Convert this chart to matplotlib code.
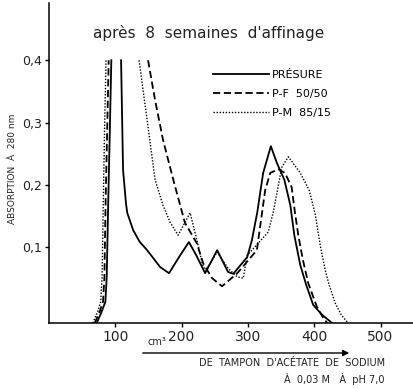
import matplotlib
matplotlib.use("Agg")
import matplotlib.pyplot as plt

# rising edge (all three curves go off scale at 0.4)
rise_y = [-0.022, -0.005, 0.012, 0.05, 0.18, 0.30, 0.40]
presure_rise_x = [72, 79, 85, 87, 89.5, 92, 94]
pf_rise_x = [69, 76, 81.5, 83.5, 85.5, 88, 90]
pm_rise_x = [66, 73, 78, 80, 82, 84, 86]

# PRESURE (solid)
presure_x = [108.7, 111.7, 116, 118, 127, 137, 148, 167.5, 181, 198, 211, 222, 235.5,
             253.6, 270, 278, 299, 306, 314, 323, 334.6, 343.7, 355, 364, 370, 379,
             388, 398.5, 412, 427]
presure_y = [0.40, 0.224, 0.171, 0.155, 0.127, 0.108, 0.095, 0.068, 0.058, 0.087, 0.108,
             0.087, 0.058, 0.095, 0.060, 0.057, 0.084, 0.111, 0.155, 0.219, 0.262, 0.235,
             0.208, 0.167, 0.119, 0.071, 0.039, 0.007, -0.009, -0.022]

# P-F 50/50 (dashed)
pf_x = [149.4, 160, 172, 188.7, 205, 223, 232.5, 246, 261, 284, 313.5, 326, 333.6,
        345.8, 356, 366, 371, 376, 383, 391, 404, 412, 419.6]
pf_y = [0.40, 0.336, 0.272, 0.203, 0.139, 0.106, 0.074, 0.050, 0.037, 0.058, 0.095,
        0.191, 0.219, 0.225, 0.219, 0.196, 0.155, 0.119, 0.079, 0.042, 0.004, -0.011,
        -0.022]

# P-M 85/15 (dotted)
pm_x = [135.8, 148, 160, 172, 182.6, 194.7, 212.8, 223, 232.5, 237, 253.6, 270, 284,
        293, 299, 315.5, 330.6, 338, 344, 351, 361, 379, 392.5, 401.5, 409, 416.6,
        422.6, 431.7, 440.8, 451]
pm_y = [0.40, 0.304, 0.208, 0.167, 0.140, 0.119, 0.155, 0.111, 0.068, 0.063, 0.092,
        0.066, 0.052, 0.050, 0.087, 0.106, 0.124, 0.155, 0.188, 0.228, 0.245, 0.219,
        0.191, 0.153, 0.103, 0.063, 0.039, 0.010, -0.009, -0.022]

yticks = [0.1, 0.2, 0.3, 0.4]
ytick_labels = ["0,1", "0,2", "0,3", "0,4"]
xticks = [100, 200, 300, 400, 500]

plt.rcParams['font.family'] = ['DejaVu Sans']
fig = plt.figure(figsize=(4.14, 3.89), dpi=100)
ax = fig.add_axes([49/414, 1-323/389, 364/414, 320/389])

k = 'black'
ax.plot(presure_rise_x, rise_y, color=k, lw=1.3)
ax.plot(pf_rise_x, rise_y, color=k, lw=1.3, ls=(0, (4, 2)))
ax.plot(pm_rise_x, rise_y, color=k, lw=1.0, ls=(0, (1, 1.2)))
ax.plot(presure_x, presure_y, color=k, lw=1.3, label="PRÉSURE")
ax.plot(pf_x, pf_y, color=k, lw=1.3, ls=(0, (4, 2)), label="P-F  50/50")
ax.plot(pm_x, pm_y, color=k, lw=1.0, ls=(0, (1, 1.2)), label="P-M  85/15")

ax.set_xlim(0, 549)
ax.set_ylim(-0.022, 0.492)
ax.set_xticks(xticks)
ax.set_xticklabels([str(v) for v in xticks], fontsize=10, color='#222222')
ax.set_yticks(yticks)
ax.set_yticklabels(ytick_labels, fontsize=9, color='#222222')
ax.tick_params(direction='out', length=3, width=1, pad=2)
for s in ['top', 'right']:
    ax.spines[s].set_visible(False)
for s in ['left', 'bottom']:
    ax.spines[s].set_linewidth(1.1)

ax.legend(loc='upper left', bbox_to_anchor=(213/414, 1-70/389), bbox_transform=fig.transFigure,
          frameon=False, fontsize=8, handlelength=5, handletextpad=0.3,
          labelspacing=0.8, borderpad=0, borderaxespad=0)

fig.text(209/414, 1-33/389, "après  8  semaines  d'affinage", fontsize=11,
         ha='center', va='center', color='#222222')
fig.text(13/414, 1-169/389, "ABSORPTION  À  280 nm", fontsize=6.5, rotation=90,
         ha='center', va='center', color='#222222')

ax.annotate("", xy=(352/414, 1-353/389), xytext=(140/414, 1-353/389),
            xycoords='figure fraction', textcoords='figure fraction',
            arrowprops=dict(arrowstyle='-|>', color=k, lw=1.0, mutation_scale=9))
fig.text(148/414, 1-347/389, "cm³", fontsize=7, ha='left', va='bottom', color='#222222')
fig.text(385/414, 1-363/389, "DE  TAMPON  D'ACÉTATE  DE  SODIUM", fontsize=7,
         ha='right', va='center', color='#222222')
fig.text(385/414, 1-379/389, "À  0,03 M   À  pH 7,0", fontsize=7,
         ha='right', va='center', color='#222222')

fig.savefig("out.png", dpi=100)
